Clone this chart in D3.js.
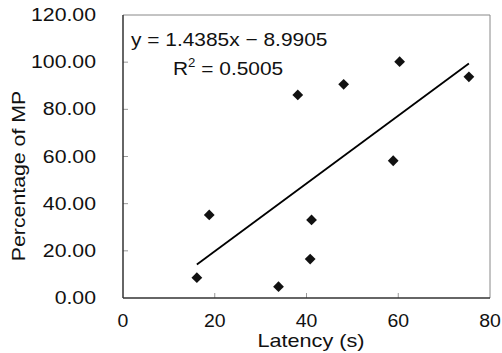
<!DOCTYPE html>
<html>
<head>
<meta charset="utf-8">
<script src="https://cdn.jsdelivr.net/npm/d3@7"></script>
<style>
  body { margin: 0; background: #fff; }
  text { font-family: "Liberation Sans", Arial, sans-serif; fill: #111; }
</style>
</head>
<body>
<div id="chart"></div>
<script>
// data
const latency = [16.1, 18.8, 41.1, 40.8, 33.9, 38.1, 48.1, 60.3, 75.4, 58.9];
const percentMP = [8.6, 35.2, 33.1, 16.5, 4.8, 86.1, 90.6, 100.2, 93.8, 58.2];
const xTicks = [0, 20, 40, 60, 80];
const yTicks = [0, 20, 40, 60, 80, 100, 120];
const slope = 1.4385, intercept = -8.9905;
const eqText = "y = 1.4385x \u2212 8.9905";
const r2Value = "0.5005";

const width = 502, height = 353;
const plot = { left: 123, right: 490, top: 15, bottom: 298 };

const svg = d3.select("#chart").append("svg")
  .attr("width", width)
  .attr("height", height);

const x = d3.scaleLinear().domain([0, 80]).range([plot.left, plot.right]);
const y = d3.scaleLinear().domain([0, 120]).range([plot.bottom, plot.top]);

// scanned glyphs run wider than the font, stretch along the text direction
function stretch(sel, k) {
  sel.each(function() {
    const len = this.getComputedTextLength();
    d3.select(this).attr("textLength", len * k).attr("lengthAdjust", "spacingAndGlyphs");
  });
}

// frame (top/right lighter)
svg.append("line")
  .attr("x1", plot.left).attr("x2", plot.right)
  .attr("y1", plot.top).attr("y2", plot.top)
  .attr("stroke", "#888").attr("stroke-width", 1);
svg.append("line")
  .attr("x1", plot.right).attr("x2", plot.right)
  .attr("y1", plot.top).attr("y2", plot.bottom)
  .attr("stroke", "#888").attr("stroke-width", 1);

// inner ticks
svg.selectAll(".ytick").data(yTicks.slice(1, -1)).enter()
  .append("line")
  .attr("x1", plot.left).attr("x2", plot.left + 5)
  .attr("y1", d => y(d)).attr("y2", d => y(d))
  .attr("stroke", "#999");
svg.selectAll(".xtick").data(xTicks.slice(1, -1)).enter()
  .append("line")
  .attr("x1", d => x(d)).attr("x2", d => x(d))
  .attr("y1", plot.bottom).attr("y2", plot.bottom - 5)
  .attr("stroke", "#999");

// axes lines
svg.append("line")
  .attr("x1", plot.left).attr("x2", plot.left)
  .attr("y1", plot.top).attr("y2", plot.bottom)
  .attr("stroke", "#333").attr("stroke-width", 1.5);
svg.append("line")
  .attr("x1", plot.left).attr("x2", plot.right)
  .attr("y1", plot.bottom).attr("y2", plot.bottom)
  .attr("stroke", "#333").attr("stroke-width", 1.5);

// tick labels
svg.selectAll(".ylab").data(yTicks).enter()
  .append("text")
  .attr("x", 96)
  .attr("y", d => y(d) + 6)
  .attr("text-anchor", "end")
  .attr("font-size", 18)
  .text(d => d.toFixed(2))
  .call(stretch, 1.18);
svg.selectAll(".xlab").data(xTicks).enter()
  .append("text")
  .attr("x", d => x(d))
  .attr("y", 327)
  .attr("text-anchor", "middle")
  .attr("font-size", 18)
  .text(d => d)
  .call(stretch, 1.08);

// axis titles
svg.append("text")
  .attr("x", 311).attr("y", 347)
  .attr("text-anchor", "middle")
  .attr("font-size", 19)
  .text("Latency (s)")
  .call(stretch, 1.14);
svg.append("text")
  .attr("transform", "translate(25,176) rotate(-90)")
  .attr("text-anchor", "middle")
  .attr("font-size", 19)
  .text("Percentage of MP")
  .call(stretch, 1.12);

// trend line
const xMin = d3.min(latency), xMax = d3.max(latency);
svg.append("path")
  .datum([xMin, xMax])
  .attr("fill", "none")
  .attr("stroke", "#000")
  .attr("stroke-width", 1.8)
  .attr("d", d3.line().x(d => x(d)).y(d => y(slope * d + intercept)));

// markers
const pts = latency.map((v, i) => ({ x: v, y: percentMP[i] }));
svg.selectAll(".pt").data(pts).enter()
  .append("path")
  .attr("d", d3.symbol().type(d3.symbolSquare).size(58))
  .attr("transform", d => `translate(${x(d.x)},${y(d.y)}) rotate(45)`)
  .attr("fill", "#111");

// equation
svg.append("text")
  .attr("x", 131).attr("y", 46)
  .attr("font-size", 19)
  .text(eqText)
  .call(stretch, 1.1);
const r2 = svg.append("text")
  .attr("x", 173).attr("y", 75)
  .attr("font-size", 19);
r2.append("tspan").text("R");
r2.append("tspan").attr("dy", -8).attr("font-size", 12).text("2");
r2.append("tspan").attr("dy", 8).text(" = " + r2Value);
stretch(r2, 1.1);
</script>
</body>
</html>
